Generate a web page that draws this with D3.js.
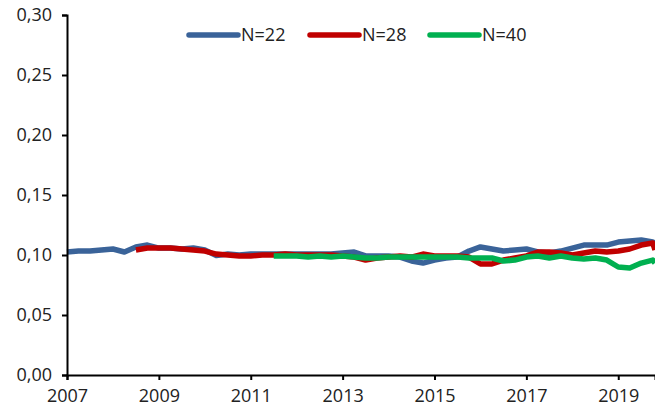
<!DOCTYPE html>
<html>
<head>
<meta charset="utf-8">
<script src="https://cdn.jsdelivr.net/npm/d3@7"></script>
<style>
  body { margin: 0; background: #fff; }
  svg { display: block; font-family: "Open Sans", sans-serif; }
</style>
</head>
<body>
<script>
// Quarterly series, first point = start year
const seriesNames = ["N=22", "N=28", "N=40"];
const seriesColors = ["#3A6399", "#C00000", "#00B050"];
const seriesStart = [2007.0, 2008.5, 2011.5];

const n22 = [0.1025, 0.1033, 0.1033, 0.1042, 0.1050, 0.1025, 0.1067, 0.1083,
             0.1058, 0.1058, 0.1050, 0.1058, 0.1042, 0.0995, 0.1008, 0.1000,
             0.1008, 0.1008, 0.1008, 0.1008, 0.1008, 0.1008, 0.1008, 0.1008,
             0.1017, 0.1025, 0.0992, 0.0992, 0.0992, 0.0983, 0.0950, 0.0933,
             0.0958, 0.0975, 0.0983, 0.1033, 0.1067, 0.1050, 0.1033, 0.1042,
             0.1050, 0.1025, 0.1017, 0.1033, 0.1058, 0.1083, 0.1083, 0.1083,
             0.1108, 0.1117, 0.1125, 0.1108];
const n28 = [0.1042, 0.1058, 0.1058, 0.1058, 0.1050, 0.1042, 0.1033, 0.1008,
             0.1000, 0.0992, 0.0992, 0.1000, 0.1000, 0.1008, 0.1000, 0.1000,
             0.1000, 0.1000, 0.0992, 0.0983, 0.0958, 0.0975, 0.0983, 0.0992,
             0.0983, 0.1008, 0.0992, 0.0992, 0.0992, 0.0983, 0.0925, 0.0925,
             0.0958, 0.0975, 0.0992, 0.1025, 0.1025, 0.1017, 0.1000, 0.1017,
             0.1033, 0.1025, 0.1033, 0.1050, 0.1083, 0.1100];
const n40 = [0.0992, 0.0992, 0.0992, 0.0983, 0.0992, 0.0983, 0.0992, 0.0983,
             0.0975, 0.0975, 0.0983, 0.0983, 0.0983, 0.0983, 0.0983, 0.0983,
             0.0983, 0.0975, 0.0975, 0.0975, 0.0950, 0.0958, 0.0983, 0.0992,
             0.0975, 0.0992, 0.0975, 0.0967, 0.0975, 0.0958, 0.0900, 0.0892,
             0.0933, 0.0958];
const seriesValues = [n22, n28, n40];
const endValues = [0.1100, 0.1042, 0.0933]; // value at right edge

const yTicks = [0, 0.05, 0.10, 0.15, 0.20, 0.25, 0.30];
const xTicks = [2007, 2009, 2011, 2013, 2015, 2017, 2019];

const width = 655, height = 409;
const margin = {top: 15, right: 0, bottom: 34, left: 67};

const svg = d3.select("body").append("svg")
  .attr("width", width)
  .attr("height", height);

const x = d3.scaleLinear()
  .domain([2007, 2019.8])
  .range([margin.left, width - margin.right]);

const y = d3.scaleLinear()
  .domain([0, 0.30])
  .range([height - margin.bottom, margin.top]);

// Build points
const series = seriesNames.map((name, k) => {
  const pts = seriesValues[k].map((v, i) => ({t: seriesStart[k] + i * 0.25, v: v}));
  pts.push({t: 2019.8, v: endValues[k]});
  return {name: name, color: seriesColors[k], points: pts};
});

// Lines
const line = d3.line()
  .x(d => x(d.t))
  .y(d => y(d.v));

svg.append("g")
  .selectAll("path")
  .data(series)
  .join("path")
  .attr("fill", "none")
  .attr("stroke", d => d.color)
  .attr("stroke-width", 5.5)
  .attr("stroke-linejoin", "round")
  .attr("d", d => line(d.points));

// Y axis
const yAxis = svg.append("g")
  .attr("transform", `translate(${margin.left},0)`)
  .call(d3.axisLeft(y).tickValues(yTicks).tickSize(5).tickPadding(10)
    .tickFormat(d => d3.format(".2f")(d).replace(".", ",")));

// X axis
const xAxis = svg.append("g")
  .attr("transform", `translate(0,${height - margin.bottom})`)
  .call(d3.axisBottom(x).tickValues(xTicks).tickSize(5).tickPadding(9)
    .tickFormat(d3.format("d")));

[yAxis, xAxis].forEach(ax => {
  ax.select(".domain").attr("stroke", "#000").attr("stroke-width", 2);
  ax.selectAll(".tick line").attr("stroke", "#000").attr("stroke-width", 2);
  ax.selectAll(".tick text")
    .attr("fill", "#222")
    .style("font-size", "18px")
    .style("font-family", "'Open Sans', sans-serif");
});

// Legend
const legendX = [187, 308, 428];
const legend = svg.append("g")
  .selectAll("g")
  .data(series)
  .join("g")
  .attr("transform", (d, i) => `translate(${legendX[i]},35)`);

legend.append("line")
  .attr("x1", 2).attr("x2", 51)
  .attr("stroke", d => d.color)
  .attr("stroke-width", 5.5)
  .attr("stroke-linecap", "round");

legend.append("text")
  .attr("x", 54)
  .attr("dy", "0.35em")
  .attr("fill", "#222")
  .style("font-size", "18px")
  .text(d => d.name);
</script>
</body>
</html>
